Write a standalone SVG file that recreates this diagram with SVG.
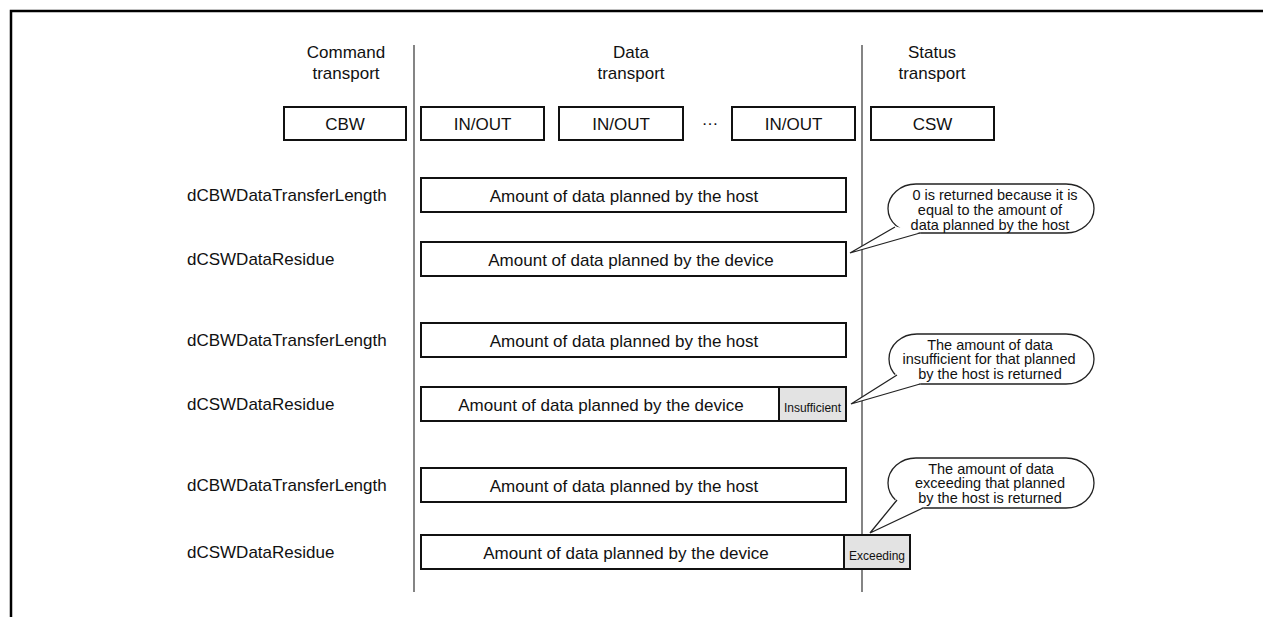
<svg xmlns="http://www.w3.org/2000/svg" width="1263" height="617" viewBox="0 0 1263 617">
  <style>
    text { font-family: "Liberation Sans", Arial, Helvetica, sans-serif; fill: #111; }
    .t17 { font-size: 17px; }
    .mid { text-anchor: middle; }
    .box { fill: #fff; stroke: #111; stroke-width: 2; }
    .diff { fill: #e3e3e3; stroke: #111; stroke-width: 2; }
    .small { font-size: 12px; text-anchor: middle; }
    .note { font-size: 14.5px; text-anchor: middle; }
    .bubble { fill: #fff; stroke: #222; stroke-width: 1.3; }
    .tail { fill: none; stroke: #222; stroke-width: 1.3; stroke-linejoin: miter; }
    .divider { stroke: #333; stroke-width: 1.2; }
  </style>

  <rect width="1263" height="617" fill="#fff"/>
  <!-- outer frame (top and left edges) -->
  <path d="M11,617 V11 H1263" fill="none" stroke="#000" stroke-width="2.5"/>

  <!-- phase dividers -->
  <g id="dividers">
    <line class="divider" x1="414" y1="45" x2="414" y2="592"/>
    <line class="divider" x1="862" y1="45" x2="862" y2="592"/>
  </g>

  <!-- phase headings -->
  <g id="headings">
    <text class="t17 mid" x="346" y="58">Command</text>
    <text class="t17 mid" x="346" y="79">transport</text>
    <text class="t17 mid" x="631" y="58">Data</text>
    <text class="t17 mid" x="631" y="79">transport</text>
    <text class="t17 mid" x="932" y="58">Status</text>
    <text class="t17 mid" x="932" y="79">transport</text>
  </g>

  <!-- transport packets -->
  <g id="cbw"><rect class="box" x="284" y="107" width="122" height="33"/><text class="t17 mid" x="345" y="130">CBW</text></g>
  <g id="inout1"><rect class="box" x="421" y="107" width="123" height="33"/><text class="t17 mid" x="482.5" y="130">IN/OUT</text></g>
  <g id="inout2"><rect class="box" x="559" y="107" width="124" height="33"/><text class="t17 mid" x="621" y="130">IN/OUT</text></g>
  <g id="ellipsis"><text class="t17 mid" x="710" y="125">…</text></g>
  <g id="inout3"><rect class="box" x="732" y="107" width="123" height="33"/><text class="t17 mid" x="793.5" y="130">IN/OUT</text></g>
  <g id="csw"><rect class="box" x="871" y="107" width="123" height="33"/><text class="t17 mid" x="932.5" y="130">CSW</text></g>

  <!-- field names -->
  <g id="field-labels">
    <text class="t17" x="187" y="201">dCBWDataTransferLength</text>
    <text class="t17" x="187" y="265">dCSWDataResidue</text>
    <text class="t17" x="187" y="346">dCBWDataTransferLength</text>
    <text class="t17" x="187" y="410">dCSWDataResidue</text>
    <text class="t17" x="187" y="491">dCBWDataTransferLength</text>
    <text class="t17" x="187" y="558">dCSWDataResidue</text>
  </g>

  <!-- case 1: equal -->
  <g id="case1-host"><rect class="box" x="421" y="178" width="425" height="34"/><text class="t17 mid" x="624" y="202">Amount of data planned by the host</text></g>
  <g id="case1-device"><rect class="box" x="421" y="242" width="425" height="34"/><text class="t17 mid" x="631" y="266">Amount of data planned by the device</text></g>

  <!-- case 2: insufficient -->
  <g id="case2-host"><rect class="box" x="421" y="323" width="425" height="34"/><text class="t17 mid" x="624" y="347">Amount of data planned by the host</text></g>
  <g id="case2-device">
    <rect class="box" x="421" y="387" width="358" height="34"/><text class="t17 mid" x="601" y="411">Amount of data planned by the device</text>
    <rect class="diff" x="779" y="387" width="67" height="34"/><text class="small" x="812.5" y="412">Insufficient</text>
  </g>

  <!-- case 3: exceeding -->
  <g id="case3-host"><rect class="box" x="421" y="468" width="425" height="34"/><text class="t17 mid" x="624" y="492">Amount of data planned by the host</text></g>
  <g id="case3-device">
    <rect class="box" x="421" y="535" width="423" height="34"/><text class="t17 mid" x="626" y="559">Amount of data planned by the device</text>
    <rect class="diff" x="844" y="535" width="66" height="34"/><text class="small" x="877" y="560">Exceeding</text>
  </g>

  <!-- callouts -->
  <g id="callout1">
    <rect class="bubble" x="888" y="184" width="206" height="49" rx="28" ry="24.5"/>
    <polygon points="894,226 850,253 921,233" fill="#fff"/>
    <polyline class="tail" points="895,227 850,253 920,233"/>
    <text class="note" x="995" y="200">0 is returned because it is</text>
    <text class="note" x="990" y="214.8">equal to the amount of</text>
    <text class="note" x="990" y="229.6">data planned by the host</text>
  </g>
  <g id="callout2">
    <rect class="bubble" x="889" y="334" width="205" height="50" rx="28" ry="25"/>
    <polygon points="896,374 851,404 921,384" fill="#fff"/>
    <polyline class="tail" points="897,375 851,404 920,384"/>
    <text class="note" x="990" y="349.5">The amount of data</text>
    <text class="note" x="989" y="364.3">insufficient for that planned</text>
    <text class="note" x="990" y="379.1">by the host is returned</text>
  </g>
  <g id="callout3">
    <rect class="bubble" x="888" y="458" width="206" height="50" rx="28" ry="25"/>
    <polygon points="896,499 870,533 924,508" fill="#fff"/>
    <polyline class="tail" points="897,500 870,533 923,508"/>
    <text class="note" x="991" y="473.5">The amount of data</text>
    <text class="note" x="990" y="488.3">exceeding that planned</text>
    <text class="note" x="990" y="503.1">by the host is returned</text>
  </g>
</svg>
